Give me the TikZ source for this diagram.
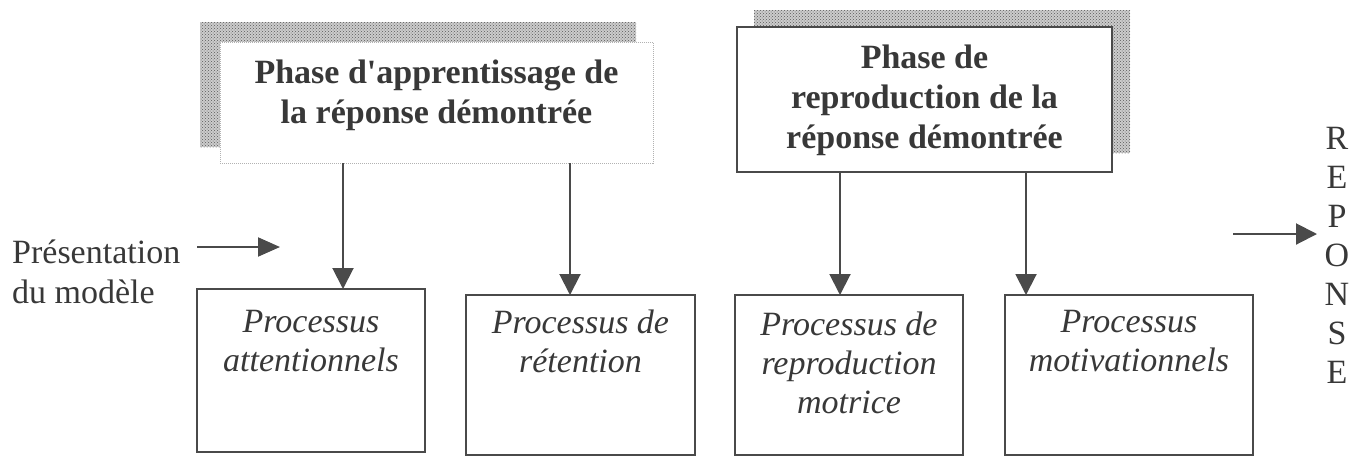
\documentclass[tikz,border=0pt]{standalone}
\usepackage{fontspec}
\setmainfont{Liberation Serif}
\usetikzlibrary{arrows.meta,patterns}
\definecolor{ink}{HTML}{383838}
\definecolor{edge}{HTML}{4A4A4A}
\begin{document}
\begin{tikzpicture}[x=1pt,y=-1pt,
  hdr/.style={font=\bfseries\fontsize{34}{40}\selectfont, text=ink, align=center, inner sep=0pt},
  proc/.style={font=\itshape\fontsize{34}{39}\selectfont, text=ink, align=center, inner sep=0pt},
  plain/.style={font=\fontsize{34}{40}\selectfont, text=ink, inner sep=0pt},
  pbox/.style={draw=edge, line width=1.6pt, fill=white, rectangle, inner sep=0pt, outer sep=0pt},
  faintbox/.style={draw=gray!60, line width=1pt, densely dotted, fill=white, rectangle, inner sep=0pt, outer sep=0pt},
  arr/.style={draw=edge, line width=2pt, -{Triangle[length=21pt,width=21pt]}},
  harr/.style={draw=edge, line width=2pt, -{Triangle[length=22pt,width=19pt]}},
  shade/.style={fill=gray!40, postaction={pattern=crosshatch dots, pattern color=gray!70!black}}
]
\useasboundingbox (0,0) rectangle (1360,459);
\fill[white] (0,0) rectangle (1360,459);

% shadows
\path[shade] (200,22) rectangle (636,147);
\path[shade] (754,10) rectangle (1130,153);

% phase boxes
\node[faintbox, minimum width=433pt, minimum height=121pt] (p1) at (436.5,102.5) {};
\node[pbox, minimum width=375pt, minimum height=145pt] (p2) at (924.5,99.5) {};
\node[hdr] (t1) at (436.5,95) {Phase d\textquotesingle apprentissage de\\la réponse démontrée};
\node[hdr] (t2) at (924.5,100) {Phase de\\reproduction de la\\réponse démontrée};

% process boxes
\node[pbox, minimum width=228pt, minimum height=163pt] (a) at (311,370.5) {};
\node[pbox, minimum width=229pt, minimum height=160pt] (b) at (580.5,375) {};
\node[pbox, minimum width=228pt, minimum height=160pt] (c) at (849,375) {};
\node[pbox, minimum width=248pt, minimum height=160pt] (d) at (1129,375) {};
\node[proc] (ta) at (311,341.4) {Processus\\attentionnels};
\node[proc] (tb) at (580.5,341) {Processus de\\rétention};
\node[proc] (tc) at (849,362.4) {Processus de\\reproduction\\motrice};
\node[proc] (td) at (1129,341.4) {Processus\\motivationnels};

% vertical connectors
\coordinate (x1) at (343,0);
\coordinate (x2) at (570,0);
\coordinate (x3) at (840,0);
\coordinate (x4) at (1026,0);
\draw[arr] (p1.south -| x1) -- (a.north -| x1);
\draw[arr] (p1.south -| x2) -- (b.north -| x2);
\draw[arr] (p2.south -| x3) -- (c.north -| x3);
\draw[arr] (p2.south -| x4) -- (d.north -| x4);

% left label
\node[plain, align=left, anchor=west] (pres) at (12,271.5) {Présentation\\du modèle};
\coordinate (pa) at (197,247);
\coordinate (pb) at (280,247);
\draw[harr] (pa) -- (pb);

% response
\node[plain, font=\fontsize{34}{39}\selectfont, align=center] (rep) at (1337,255.75) {R\\E\\P\\O\\N\\S\\E};
\coordinate (ra) at (1233,234);
\coordinate (rb) at (1317,234);
\draw[arr] (ra) -- (rb);
\end{tikzpicture}
\end{document}
